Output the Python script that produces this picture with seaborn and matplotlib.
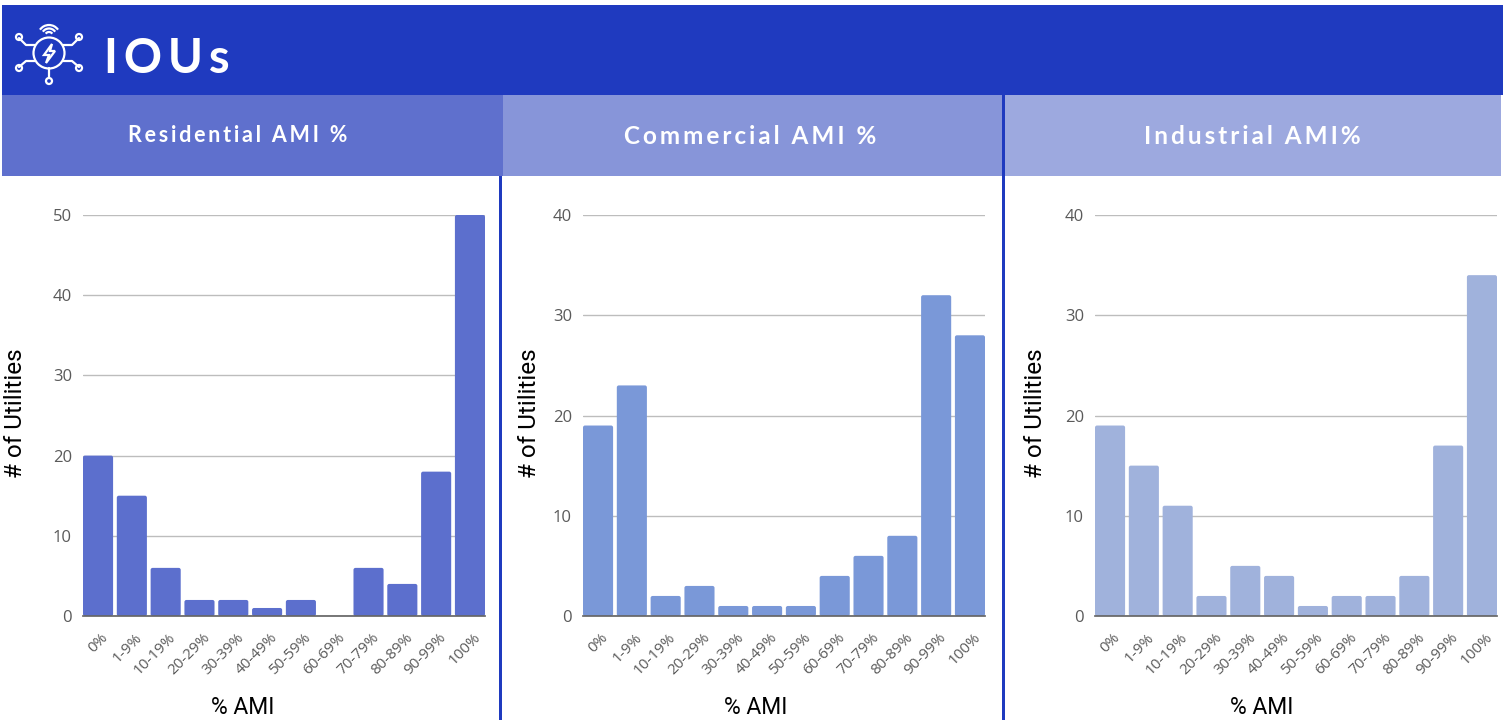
import pandas as pd
import seaborn as sns
import matplotlib.pyplot as plt
from matplotlib.patches import Rectangle, Circle, Arc, Polygon, FancyBboxPatch
from matplotlib.transforms import ScaledTranslation

# data
bins = ["0%", "1-9%", "10-19%", "20-29%", "30-39%", "40-49%",
        "50-59%", "60-69%", "70-79%", "80-89%", "90-99%", "100%"]
residential = [20, 15, 6, 2, 2, 1, 2, 0, 6, 4, 18, 50]
commercial = [19, 23, 2, 3, 1, 1, 1, 4, 6, 8, 32, 28]
industrial = [19, 15, 11, 2, 5, 4, 1, 2, 2, 4, 17, 34]
residential_ticks = [0, 10, 20, 30, 40, 50]
other_ticks = [0, 10, 20, 30, 40]

W, H = 1509, 721
BLUE = "#1f3abf"
BAR_W = 0.89

sns.set_theme(style="white")
plt.rcParams["font.family"] = ["Roboto", "DejaVu Sans"]

fig = plt.figure(figsize=(W / 100, H / 100), dpi=100, facecolor="white")

# pixel canvas for banners, dividers and logo
bg = fig.add_axes([0, 0, 1, 1], zorder=0)
bg.set_xlim(0, W)
bg.set_ylim(H, 0)
bg.axis("off")

bg.add_patch(Rectangle((2, 5), 1501, 90, color=BLUE, lw=0))
bg.add_patch(Rectangle((2, 95), 501, 81, color="#5f70cd", lw=0))
bg.add_patch(Rectangle((503, 95), 501, 81, color="#8795d9", lw=0))
bg.add_patch(Rectangle((1004, 95), 497, 81, color="#9da9df", lw=0))
bg.add_patch(Rectangle((499, 176), 3, 544, color=BLUE, lw=0))
bg.add_patch(Rectangle((1002, 95), 3, 625, color=BLUE, lw=0))

# no letter-spacing in matplotlib, so thin spaces between the letters
bg.text(104, 59, "\u2009".join("IOUs"), color="white", fontsize=34, fontweight="bold",
        family=["Lato", "DejaVu Sans"], va="center", ha="left")
for x, y, label, size in [(238, 135, "Residential AMI %", 15.5),
                          (750, 136, "Commercial AMI %", 17.5),
                          (1252, 136, "Industrial AMI%", 17.5)]:
    bg.text(x, y, "\u2009".join(label), color="white", fontsize=size, fontweight="bold",
            family=["Lato", "DejaVu Sans"], va="center", ha="center")

# logo
lw = 1.6
bg.add_patch(Circle((49, 53), 15.5, fill=False, ec="white", lw=lw))
bg.add_patch(Polygon([(52, 44), (44, 55), (49, 55), (46, 63), (55, 51), (50, 51)],
                     fill=False, ec="white", lw=lw))
for dia in (8, 15, 22):
    bg.add_patch(Arc((49, 36), dia, dia, theta1=215, theta2=325, ec="white", lw=lw))
for pts, end in [([(35, 45), (26, 45), (19, 38)], (19, 37)),
                 ([(63, 45), (72, 45), (79, 38)], (79, 37)),
                 ([(35, 61), (26, 61), (19, 67)], (19, 68)),
                 ([(63, 61), (72, 61), (79, 67)], (79, 68)),
                 ([(49, 68), (49, 78)], (49, 81))]:
    bg.plot(*zip(*pts), color="white", lw=lw)
    bg.add_patch(Circle(end, 3, fill=False, ec="white", lw=lw))


def round_bars(ax, color):
    # swap the square bars for ones with slightly rounded corners
    x_per_px = 1 / (ax.get_position().width * W / (ax.get_xlim()[1] - ax.get_xlim()[0]))
    y_per_px = ax.get_ylim()[1] / (ax.get_position().height * H)
    for bar in list(ax.patches):
        x, w, h = bar.get_x(), bar.get_width(), bar.get_height()
        bar.remove()
        if h == 0:
            continue
        ax.add_patch(FancyBboxPatch((x, 0), w, h, boxstyle=f"round,pad=0,rounding_size={2 * x_per_px}",
                                    mutation_aspect=y_per_px / x_per_px,
                                    fc=color, ec="none", zorder=3))


def panel(x0, x1, values, ticks, color, ylabel_x, xlabel_x):
    ax = fig.add_axes([x0 / W, 1 - 616 / H, (x1 - x0) / W, (616 - 215) / H], zorder=2)
    ax.patch.set_alpha(0)
    df = pd.DataFrame({"bin": bins, "n": values})
    sns.barplot(data=df, x="bin", y="n", color=color, saturation=1, width=BAR_W, ax=ax, zorder=3)
    ax.set_xlim(-BAR_W / 2, 11 + BAR_W / 2)
    ax.set_ylim(0, ticks[-1])
    ax.set_yticks(ticks)
    ax.yaxis.grid(True, color="#bdbdbd", lw=1)
    ax.set_axisbelow(True)
    round_bars(ax, color)
    sns.despine(ax=ax, left=True)
    ax.spines["bottom"].set_color("#666666")
    ax.spines["bottom"].set_zorder(4)
    ax.tick_params(axis="both", length=0, colors="#5a5a5a", labelsize=12)
    ax.tick_params(axis="y", pad=8)
    ax.tick_params(axis="x", pad=10)
    shift = ScaledTranslation(2 / 72, 0, fig.dpi_scale_trans)
    for lab in ax.get_yticklabels():
        lab.set_fontfamily("Open Sans")
    for lab in ax.get_xticklabels():
        lab.set_rotation(45)
        lab.set_ha("right")
        lab.set_rotation_mode("anchor")
        lab.set_fontfamily("Open Sans")
        lab.set_fontsize(11)
        lab.set_transform(lab.get_transform() + shift)
    ax.set_xlabel("")
    ax.set_ylabel("")
    # axis titles sit at fixed spots in the banner layout
    bg.text(xlabel_x, 708, "% AMI", fontsize=16.5, color="black",
            family="Roboto", ha="center", va="center")
    bg.text(ylabel_x, 413, "# of Utilities", fontsize=17.5, color="black", rotation=90,
            family="Roboto", ha="center", va="center")
    return ax


panel(83, 485, residential, residential_ticks, "#5c6fcd", 16, 243)
panel(583, 985, commercial, other_ticks, "#7a98d8", 529, 756)
panel(1095, 1497, industrial, other_ticks, "#a0b2dc", 1035, 1262)

fig.savefig("out.png", dpi=100)
